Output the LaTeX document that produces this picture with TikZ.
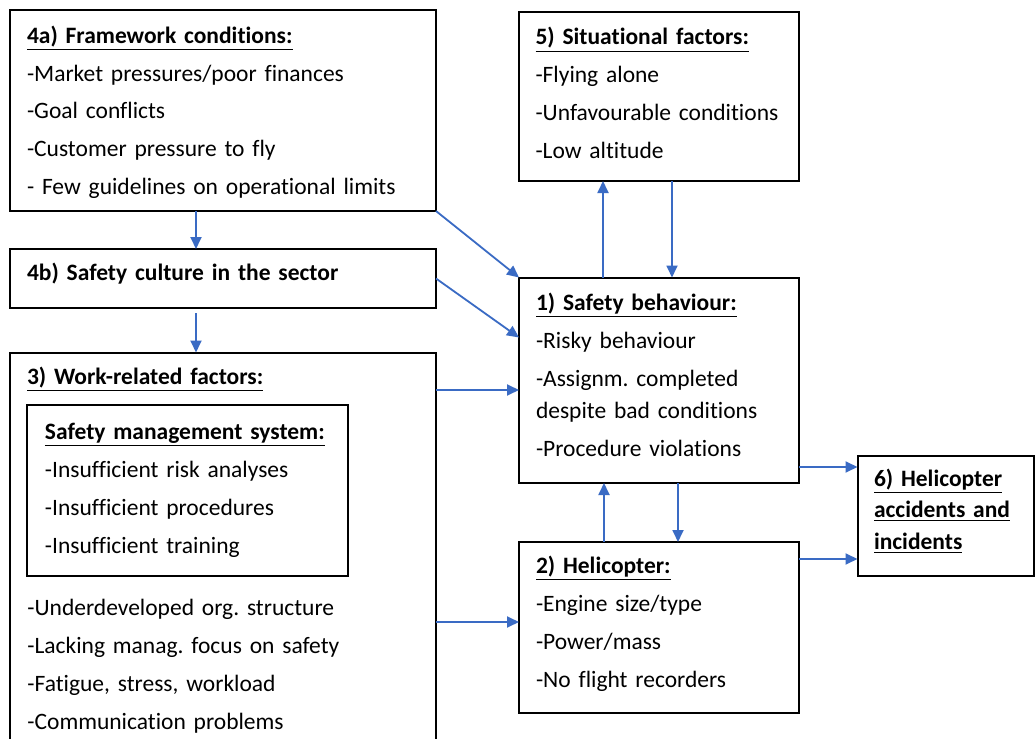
\documentclass[tikz,border=0pt]{standalone}
\usepackage{fontspec}
\setmainfont{Carlito}[Ligatures={NoCommon}]
\usetikzlibrary{arrows.meta,positioning,calc}
\definecolor{bleuF}{HTML}{3A6BC4}
\newcommand{\tit}[1]{\underline{\textbf{#1}}}
\frenchspacing
\tikzset{
  cadre/.style={rectangle, draw=black, line width=1pt, anchor=north west, outer sep=0pt,
                align=left, inner xsep=8.5pt, inner ysep=0pt, text height=16.25pt,
                font=\fontsize{11.75}{19}\selectfont},
  liste/.style={anchor=base west, align=left, inner sep=0pt, font=\fontsize{11.75}{19.1}\selectfont},
  arr/.style={-{Triangle[length=6pt,width=5.5pt]}, line width=0.9pt, draw=bleuF},
}

\begin{document}
\begin{tikzpicture}[x=0.5pt, y=-0.5pt]
        \path[use as bounding box, fill=white] (0,0) rectangle (1035,739);
        \clip (0,0) rectangle (1035,739);
        \node[cadre, text width=196pt, text height=16.5pt, text depth=84pt] (fw) at (10,10) {\tit{4a) Framework conditions:}\\-Market pressures/poor finances\\-Goal conflicts\\-Customer pressure to fly\\- Few guidelines on operational limits};
        \node[cadre, text width=196pt, text height=15.5pt, text depth=14pt] (cu) at (10,249) {\textbf{4b) Safety culture in the sector}};
        \node[cadre, text width=196pt, text height=15.75pt, text depth=188pt] (wr) at (10,352.5) {\tit{3) Work-related factors:}};
        \node[cadre, inner xsep=9pt, text width=142.5pt, text height=17pt, text depth=68.5pt] (sm) at (27,405) {\tit{Safety management system:}\\-Insufficient risk analyses\\-Insufficient procedures\\-Insufficient training};
        \node[liste, text width=190pt] (wl) at (27,615) {-Underdeveloped org. structure\\-Lacking manag. focus on safety\\-Fatigue, stress, workload\\-Communication problems};
        \node[cadre, text width=123.25pt, text height=16.75pt, text depth=68pt] (si) at (518.5,11.5) {\tit{5) Situational factors:}\\-Flying alone\\-Unfavourable conditions\\-Low altitude};
        \node[cadre, text width=123pt, text depth=86.5pt] (sb) at (519,277.5) {\tit{1) Safety behaviour:}\\-Risky behaviour\\-Assignm. completed\\[-3pt]despite bad conditions\\-Procedure violations};
        \node[cadre, text width=123pt, text height=15.5pt, text depth=70pt] (he) at (519,542) {\tit{2) Helicopter:}\\-Engine size/type\\-Power/mass\\-No flight recorders};
        \node[cadre, inner xsep=8.25pt, text width=71.75pt, text height=15.25pt, text depth=44.75pt, font=\fontsize{11.75}{15.75}\selectfont] (ac) at (857.5,455.5) {\tit{6) Helicopter}\\\tit{accidents and}\\\tit{incidents}};
        \draw[arr] ([xshift=93pt]fw.south west) -- ([xshift=93pt]cu.north west);
        \draw[arr] ([xshift=93pt,yshift=-2.5pt]cu.south west) -- ([xshift=93pt]wr.north west);
        \draw[arr] (fw.south east) -- (sb.north west);
        \draw[arr] (cu.east) -- ([yshift=-30pt]sb.north west);
        \draw[arr] ([yshift=-18.75pt]wr.north east) -- ([yshift=-18.75pt]wr.north east -| sb.west);
        \draw[arr] ([yshift=-134.75pt]wr.north east) -- ([yshift=-134.75pt]wr.north east -| he.west);
        \draw[arr] ([xshift=42pt]sb.north west) -- ([xshift=42pt]sb.north west |- si.south);
        \draw[arr] ([xshift=76.75pt]si.south west) -- ([xshift=76.75pt]si.south west |- sb.north);
        \draw[arr] ([xshift=79.5pt]sb.south west) -- ([xshift=79.5pt]sb.south west |- he.north);
        \draw[arr] ([xshift=42.5pt]he.north west) -- ([xshift=42.5pt]he.north west |- sb.south);
        \draw[arr] ([yshift=8pt]sb.south east) -- ([yshift=8pt]sb.south east -| ac.west);
        \draw[arr] ([yshift=-8.5pt]he.north east) -- ([yshift=-8.5pt]he.north east -| ac.west);
      \end{tikzpicture}
\end{document}
